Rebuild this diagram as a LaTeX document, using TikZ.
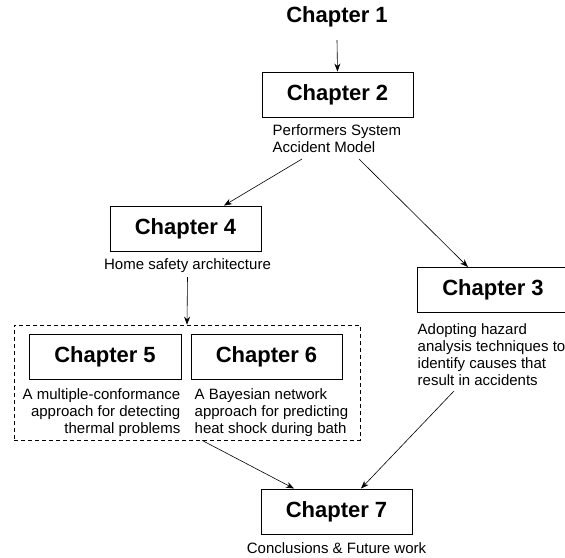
\documentclass[tikz,border=0pt]{standalone}
\usepackage{fontspec}
\setmainfont{Liberation Sans}
\usetikzlibrary{arrows.meta,calc}
\begin{document}
\begin{tikzpicture}[x=1pt,y=-1pt,
  chbox/.style={draw, line width=0.9pt, minimum width=151pt, minimum height=45pt, inner sep=0pt, font=\fontsize{22}{26}\selectfont\bfseries},
  title/.style={inner sep=0pt, minimum height=46pt, font=\fontsize{22}{26}\selectfont\bfseries},
  lbl/.style={inner sep=0pt, font=\fontsize{15}{17}\selectfont},
  grpbox/.style={draw, dash pattern=on 4pt off 3pt, line width=0.7pt, minimum width=346pt, minimum height=115pt, inner sep=0pt},
  arr/.style={-{Stealth[length=8pt,width=6pt]}, line width=0.6pt}
]
\useasboundingbox (0,0) rectangle (565,557);

% nodes (for multi-line labels the base anchor is the last line's baseline)
\node[title] (ch1) at (337,17) {Chapter 1};
\node[chbox] (ch2) at (337.5,94.5) {Chapter 2};
\node[lbl, anchor=base west, align=left] (ch2lbl) at (272.5,152.5) {Performers System\\Accident Model};

\node[chbox] (ch4) at (185.5,228.5) {Chapter 4};
\node[lbl, anchor=base] (ch4lbl) at (187.5,269) {Home safety architecture};

\node[chbox] (ch3) at (493,290) {Chapter 3};
\node[lbl, anchor=base west, align=left] (ch3lbl) at (417.5,385.5) {Adopting hazard\\analysis techniques to\\identify causes that\\result in accidents};

\node[grpbox] (grp) at (187,382.5) {};
\node[chbox, minimum width=152pt] (ch5) at (105,356.5) {Chapter 5};
\node[chbox] (ch6) at (266.5,356.5) {Chapter 6};
\node[lbl, anchor=base east, align=right] (ch5lbl) at (180.5,433) {A multiple-conformance\\approach for detecting\\thermal problems};
\node[lbl, anchor=base west, align=left] (ch6lbl) at (194.5,433) {A Bayesian network\\approach for predicting\\heat shock during bath};

\node[chbox] (ch7) at (336.5,511.5) {Chapter 7};
\node[lbl, anchor=base] (ch7lbl) at (336.5,553) {Conclusions \& Future work};

% free ends under labels
\coordinate (s24) at (302,159);
\coordinate (s23) at (359,159);
\coordinate (s37) at (454,391);

% connectors
\draw[arr] (ch1.south) -- (ch2.north);
\draw[arr] (s24) -- ($(ch4.north)+(38.5,0)$);
\draw[arr] (s23) -- ($(ch3.north)+(-25,0)$);
\draw[arr] (ch4lbl.south |- 0,277) -- (grp.north);
\draw[arr] ($(grp.south)+(15,0)$) -- ($(ch7.north)+(-42.5,0)$);
\draw[arr] (s37) -- ($(ch7.north)+(24.5,0)$);
\end{tikzpicture}
\end{document}
